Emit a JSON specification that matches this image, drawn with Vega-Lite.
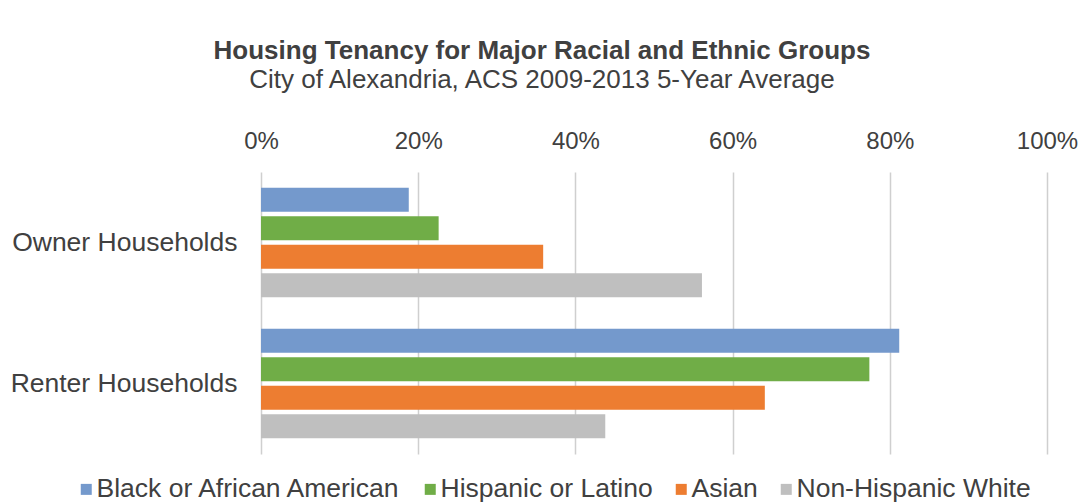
{
  "$schema": "https://vega.github.io/schema/vega-lite/v6.json",
  "width": 786,
  "height": 282,
  "autosize": {"type": "none"},
  "padding": {"left": 261, "top": 172, "right": 31, "bottom": 50},
  "background": "white",
  "title": {
    "text": "Housing Tenancy for Major Racial and Ethnic Groups",
    "subtitle": "City of Alexandria, ACS 2009-2013 5-Year Average",
    "anchor": "middle",
    "frame": "group",
    "dx": -112,
    "offset": 36,
    "font": "Liberation Sans",
    "fontSize": 26,
    "fontWeight": "bold",
    "color": "#404040",
    "subtitleFont": "Liberation Sans",
    "subtitleFontSize": 26,
    "subtitleColor": "#404040",
    "subtitlePadding": 3
  },
  "data": {
    "values": [
      {"tenure": "Owner Households", "group": "Black or African American", "value": 0.188},
      {"tenure": "Owner Households", "group": "Hispanic or Latino", "value": 0.226},
      {"tenure": "Owner Households", "group": "Asian", "value": 0.359},
      {"tenure": "Owner Households", "group": "Non-Hispanic White", "value": 0.561},
      {"tenure": "Renter Households", "group": "Black or African American", "value": 0.812},
      {"tenure": "Renter Households", "group": "Hispanic or Latino", "value": 0.774},
      {"tenure": "Renter Households", "group": "Asian", "value": 0.641},
      {"tenure": "Renter Households", "group": "Non-Hispanic White", "value": 0.438}
    ]
  },
  "mark": {"type": "bar"},
  "encoding": {
    "y": {
      "field": "tenure",
      "type": "nominal",
      "sort": ["Owner Households", "Renter Households"],
      "scale": {"paddingInner": 0, "paddingOuter": 0},
      "axis": {
        "title": null,
        "ticks": false,
        "domain": false,
        "labelFont": "Liberation Sans",
        "labelFontSize": 26.5,
        "labelColor": "#404040",
        "labelPadding": 24,
        "labelLimit": 300
      }
    },
    "yOffset": {
      "field": "group",
      "type": "nominal",
      "sort": ["Black or African American", "Hispanic or Latino", "Asian", "Non-Hispanic White"],
      "scale": {"paddingInner": 0.16, "paddingOuter": 0.55}
    },
    "x": {
      "field": "value",
      "type": "quantitative",
      "scale": {"domain": [0, 1], "nice": false},
      "axis": {
        "orient": "top",
        "title": null,
        "format": ".0%",
        "values": [0, 0.2, 0.4, 0.6, 0.8, 1],
        "ticks": false,
        "domain": false,
        "grid": true,
        "gridColor": "#CFCFCF",
        "gridWidth": 1.5,
        "labelFlush": false,
        "labelFont": "Liberation Sans",
        "labelFontSize": 24,
        "labelColor": "#404040",
        "labelPadding": 19
      }
    },
    "color": {
      "field": "group",
      "type": "nominal",
      "scale": {
        "domain": ["Black or African American", "Hispanic or Latino", "Asian", "Non-Hispanic White"],
        "range": ["#7499CC", "#70AD47", "#ED7D31", "#BFBFBF"]
      },
      "legend": {
        "title": null,
        "orient": "none",
        "direction": "horizontal",
        "legendX": -182,
        "legendY": 304,
        "symbolType": "square",
        "symbolSize": 121,
        "symbolStrokeWidth": 0,
        "symbolOffset": -6,
        "labelFont": "Liberation Sans",
        "labelFontSize": 26.5,
        "labelColor": "#404040",
        "labelOffset": -3,
        "columnPadding": 21,
        "labelLimit": 400
      }
    }
  },
  "config": {"view": {"stroke": null}}
}
